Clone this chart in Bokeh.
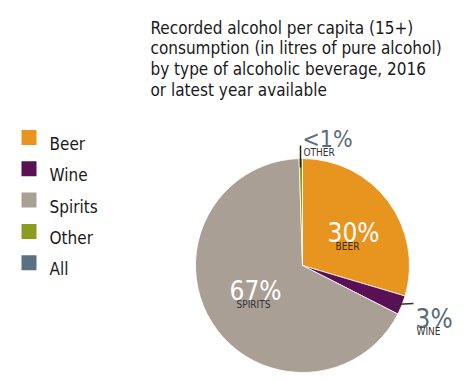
import math
from bokeh.plotting import figure
from bokeh.models import ColumnDataSource, Range1d
from bokeh.core.properties import value
from bokeh.embed import file_html
from bokeh.resources import INLINE

# ---- data ----
categories = ["Beer", "Wine", "Spirits", "Other"]
shares = [29.6, 2.9, 67.0, 0.5]
pct_labels = ["30%", "3%", "67%", "<1%"]
slice_names = ["BEER", "WINE", "SPIRITS", "OTHER"]
colors = ["#E8951F", "#5B0F55", "#A99F95", "#8B9C21"]
legend_items = ["Beer", "Wine", "Spirits", "Other", "All"]
legend_colors = ["#E8951F", "#5B0F55", "#A99F95", "#8B9C21", "#5B7083"]
title_lines = ["Recorded alcohol per capita (15+)",
               "consumption (in litres of pure alcohol)",
               "by type of alcoholic beverage, 2016",
               "or latest year available"]

W, H = 474, 382
FONT = "DejaVu Sans Condensed"

p = figure(width=W, height=H, output_backend="svg", toolbar_location=None,
           x_range=Range1d(0, W), y_range=Range1d(0, H), min_border=0)
p.axis.visible = False
p.grid.visible = False
p.outline_line_color = None
p.background_fill_color = "white"
p.border_fill_color = "white"

def X(px):
    return px

def Y(py):
    return H - py

# ---- pie ----
total = sum(shares)
starts, ends = [], []
cum = 0.0
for s in shares:
    starts.append(math.pi / 2 - 2 * math.pi * cum / total)
    cum += s
    ends.append(math.pi / 2 - 2 * math.pi * cum / total)
cx, cy, r = X(302), Y(265), 107
src = ColumnDataSource(dict(start=starts, end=ends, color=colors, cat=categories))
p.wedge(x=cx, y=cy, radius=r, start_angle="start", end_angle="end",
        direction="clock", fill_color="color", line_color="white",
        line_width=0.8, source=src)

# ---- labels ----
def label(px, py, txt, color, size, align="center"):
    p.text(x=[X(px)], y=[Y(py)], text=[txt], text_color=color,
           text_font_size=size, text_font=value(FONT), text_align=align,
           text_baseline="alphabetic")

# Beer
label(353, 232, pct_labels[0], "white", "26px")
label(347, 246, slice_names[0], "#3a2a18", "10px")
# Spirits
label(255, 290, pct_labels[2], "white", "26px")
label(253, 304, slice_names[2], "#333333", "10px")
# Wine
p.segment(x0=[X(393)], y0=[Y(304)], x1=[X(413)], y1=[Y(303)],
          line_color="#333333", line_width=1.5)
label(415, 318, pct_labels[1], "#5B6B78", "26px", "left")
label(428, 331, slice_names[1], "#333333", "10px")
# Other
p.segment(x0=[X(300)], y0=[Y(145)], x1=[X(300)], y1=[Y(167)],
          line_color="#222222", line_width=1.5)
label(302, 138, pct_labels[3], "#5B6B78", "23px", "left")
label(303, 152, slice_names[3], "#333333", "10px", "left")

# ---- title ----
for i, line in enumerate(title_lines):
    label(150, 27 + 20.8 * i, line, "#1a1a1a", "17px", "left")

# ---- legend ----
for i, (name, col) in enumerate(zip(legend_items, legend_colors)):
    yc = 137 + 31.3 * i
    p.rect(x=[X(28.5)], y=[Y(yc)], width=15, height=15, fill_color=col,
           line_color=None)
    label(49, yc + 6.5, name, "#1a1a1a", "17px", "left")

open("out.html", "w").write(file_html(p, INLINE))
